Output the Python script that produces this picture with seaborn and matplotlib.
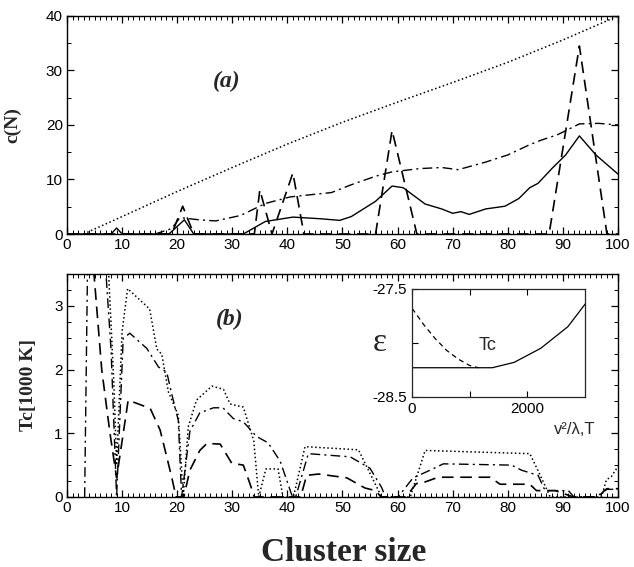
import matplotlib
matplotlib.use("Agg")
import matplotlib.pyplot as plt
from matplotlib.ticker import MultipleLocator, FixedLocator
import seaborn as sns
import pandas as pd

# ---------------- data: panel (a) c(N) ----------------
a_dotted_x = [3, 10, 20, 30, 40, 50, 60, 70, 80, 90, 100]
a_dotted_y = [0, 3.2, 7.8, 12.2, 16.5, 20.5, 24.2, 27.8, 31.5, 35.6, 40]

a_dashdot_x = [16, 19, 20.5, 24, 27, 31.5, 36, 40.5, 46, 48, 51.5, 56, 59, 64, 68, 71,
               76, 80, 84, 86, 89, 93, 96.5, 100]
a_dashdot_y = [0, 1.0, 3.0, 2.6, 2.4, 3.4, 5.6, 6.8, 7.4, 7.6, 9.0, 10.6, 11.4, 12.0, 12.2, 11.8,
               13.2, 14.5, 16.4, 17.2, 18.2, 20.2, 20.3, 20.0]

a_solid_x = [0, 8, 9, 10, 18.5, 21.3, 23, 32, 36, 41, 46, 49.5, 51.6, 56, 59, 61, 63, 65, 68,
             70, 71.5, 73, 76, 79.5, 82, 84, 85.5, 88, 90.5, 93, 96, 100]
a_solid_y = [0, 0, 1.1, 0, 0, 2.6, 0, 0, 2.3, 3.1, 2.8, 2.5, 3.2, 6.0, 8.8, 8.5, 7.0, 5.5, 4.6,
             3.8, 4.1, 3.6, 4.6, 5.1, 6.5, 8.5, 9.3, 12.0, 14.5, 18.0, 14.5, 11.0]

a_dashed_x = [0, 19, 21, 23, 34, 35, 37.2, 41, 43, 56, 59, 63.5, 87.5, 93, 98, 100]
a_dashed_y = [0, 0, 5.1, 0, 0, 8.1, 0, 11.2, 0, 0, 19, 0, 0, 34.5, 0, 0]

# ---------------- data: panel (b) Tc ----------------
b_dotted_x = [5, 7.5, 8.5, 9, 10, 11, 15, 16.3, 17.2, 18.4, 20.2, 21.1, 22, 23.5, 26.3, 28.4,
              29.6, 32, 33.9, 34.8, 36.1, 38.3, 39.2, 41.1, 43.2, 52.9, 57.1, 62.3, 65, 84,
              85.9, 87.7, 97, 97.9, 98.8, 100]
b_dotted_y = [6, 3.6, 1.8, 0.5, 2.6, 3.27, 2.95, 2.32, 2.24, 1.65, 1.28, 0, 1.1, 1.52, 1.74, 1.69,
              1.46, 1.41, 0.88, 0, 0.44, 0.44, 0, 0, 0.79, 0.74, 0, 0, 0.73, 0.68,
              0.34, 0, 0, 0.27, 0.32, 0.48]

b_dashdot_x = [3.2, 4, 7, 8, 9, 10.2, 11.4, 14.5, 16.6, 18.1, 19, 20.2, 20.8, 22.3, 24.1, 26.6,
               28.3, 30.2, 32, 34.4, 36.5, 38.7, 40.8, 41.5, 43.8, 51.4, 55, 57.1, 57.8, 60.1,
               62.8, 65.9, 68.3, 80.7, 82.5, 85.5, 86.6, 87.2, 91, 92, 96, 98, 100]
b_dashdot_y = [0, 5.5, 3.6, 2.3, 0, 2.49, 2.57, 2.33, 2.04, 1.96, 1.62, 1.2, 0, 1.03, 1.32, 1.4,
               1.4, 1.23, 1.18, 0.95, 0.85, 0.56, 0.03, 0, 0.68, 0.63, 0.45, 0.15, 0, 0,
               0.3, 0.42, 0.52, 0.5, 0.42, 0.34, 0.13, 0.1, 0.1, 0, 0, 0.12, 0.12]

b_dashed_x = [4, 4.8, 6.3, 7.8, 9, 11.1, 15.1, 16.9, 18.1, 19, 19.8, 21.2, 22.3, 24.1, 25.4,
              27.8, 29.9, 32, 33.2, 34, 42.4, 43.5, 45.7, 50.8, 54.1, 56, 57, 61.5, 63.4, 64.8,
              67.4, 76.8, 78.6, 84, 85.2, 88.6, 91.9, 96.5, 97.5, 98, 100]
b_dashed_y = [5, 3.6, 2.0, 1.0, 0.3, 1.52, 1.39, 1.05, 0.63, 0.31, 0, 0, 0.42, 0.73, 0.84,
              0.83, 0.53, 0.5, 0.21, 0, 0, 0.34, 0.36, 0.3, 0.14, 0.1, 0, 0, 0.21, 0.23,
              0.31, 0.31, 0.2, 0.2, 0.1, 0.1, 0, 0, 0.1, 0.13, 0.13]

# ---------------- data: inset ----------------
in_solid_x = [0, 1000, 1390, 1770, 2230, 2700, 3000]
in_solid_y = [-28.23, -28.23, -28.23, -28.18, -28.05, -27.85, -27.64]
in_dashed_x = [0, 200, 400, 600, 800, 1000, 1150]
in_dashed_y = [-27.68, -27.83, -27.96, -28.07, -28.15, -28.21, -28.23]

a_xticks = [0, 10, 20, 30, 40, 50, 60, 70, 80, 90, 100]
a_yticks = [0, 10, 20, 30, 40]
b_yticks = [0, 1, 2, 3]

# ---------------- style ----------------
sns.set_style("ticks")
plt.rcParams['font.family'] = ['Liberation Sans', 'DejaVu Sans']
plt.rcParams['axes.unicode_minus'] = False
plt.rcParams['axes.linewidth'] = 1.0

SERIF = ['Liberation Serif', 'DejaVu Serif']
DOT = ':'
DASHDOT = (0, (7, 3, 1.5, 3))
DASH = (0, (7, 4))

fig = plt.figure(figsize=(6.34, 5.67), dpi=100)
ax_a = fig.add_axes([0.1057, 0.5873, 0.869, 0.3845])
ax_b = fig.add_axes([0.1057, 0.1235, 0.869, 0.3933])
ax_in = fig.add_axes([0.650, 0.300, 0.273, 0.1905])


def draw(ax, xs, ys, ls, lw=1.0):
    df = pd.DataFrame({"x": xs, "y": ys})
    sns.lineplot(data=df, x="x", y="y", ax=ax, color="black", lw=lw,
                 linestyle=ls, estimator=None, sort=False)


draw(ax_a, a_dotted_x, a_dotted_y, DOT, 1.1)
draw(ax_a, a_dashdot_x, a_dashdot_y, DASHDOT)
draw(ax_a, a_solid_x, a_solid_y, '-')
draw(ax_a, a_dashed_x, a_dashed_y, DASH, 1.2)

draw(ax_b, b_dotted_x, b_dotted_y, DOT, 1.1)
draw(ax_b, b_dashdot_x, b_dashdot_y, DASHDOT)
draw(ax_b, b_dashed_x, b_dashed_y, DASH, 1.2)

draw(ax_in, in_solid_x, in_solid_y, '-', 0.9)
draw(ax_in, in_dashed_x, in_dashed_y, (0, (4, 3)), 0.9)


def style_axes(ax):
    ax.tick_params(which='both', direction='in', top=True, right=True,
                   labelsize=11, pad=3, colors='black')
    ax.tick_params(which='major', length=5, width=0.9)
    ax.tick_params(which='minor', length=3, width=0.7)
    for s in ax.spines.values():
        s.set_color('black')


# panel (a)
ax_a.set_xlim(0, 100)
ax_a.set_ylim(0, 40)
ax_a.xaxis.set_major_locator(FixedLocator(a_xticks))
ax_a.xaxis.set_minor_locator(MultipleLocator(1))
ax_a.yaxis.set_major_locator(FixedLocator(a_yticks))
ax_a.yaxis.set_minor_locator(MultipleLocator(5))
style_axes(ax_a)
ax_a.set_xlabel("")
ax_a.set_ylabel("c(N)", family=SERIF, fontweight='bold', fontsize=14)
ax_a.yaxis.set_label_coords(-0.082, 0.5)
ax_a.text(29, 28, "(a)", family=SERIF, fontweight='bold', fontstyle='italic',
          fontsize=17, ha='center', va='center')

# panel (b)
ax_b.set_xlim(0, 100)
ax_b.set_ylim(0, 3.5)
ax_b.xaxis.set_major_locator(FixedLocator(a_xticks))
ax_b.xaxis.set_minor_locator(MultipleLocator(1))
ax_b.yaxis.set_major_locator(FixedLocator(b_yticks))
ax_b.yaxis.set_minor_locator(MultipleLocator(0.25))
style_axes(ax_b)
ax_b.set_xlabel("")
ax_b.set_ylabel("Tc[1000 K]", family=SERIF, fontweight='bold', fontsize=14)
ax_b.yaxis.set_label_coords(-0.054, 0.5)
ax_b.text(29.5, 2.78, "(b)", family=SERIF, fontweight='bold', fontstyle='italic',
          fontsize=17, ha='center', va='center')

# inset
ax_in.set_xlim(0, 3000)
ax_in.set_ylim(-28.5, -27.5)
ax_in.xaxis.set_major_locator(FixedLocator([0, 2000]))
ax_in.xaxis.set_minor_locator(FixedLocator([1000]))
ax_in.yaxis.set_major_locator(FixedLocator([-28.5, -27.5]))
ax_in.yaxis.set_minor_locator(FixedLocator([-28.0]))
ax_in.tick_params(which='both', direction='in', top=True, right=False,
                  labelsize=11, colors='black')
ax_in.tick_params(which='major', length=4, width=0.8)
ax_in.tick_params(which='minor', length=4, width=0.8)
ax_in.set_yticklabels(["-28.5", "-27.5"])
ax_in.set_xlabel("")
ax_in.set_ylabel("")
for s in ax_in.spines.values():
    s.set_linewidth(0.9)
ax_in.text(1300, -28.02, "Tc", fontsize=13, ha='center', va='center')

fig.text(380 / 634, 1 - 343 / 567, "ε", family=SERIF, fontsize=24,
         ha='center', va='center')
fig.text(575 / 634, 1 - 430 / 567, "v²/λ,T", fontsize=12, ha='center', va='center')
fig.text(344 / 634, 1 - 561 / 567, "Cluster size", family=SERIF, fontweight='bold',
         fontsize=24, ha='center', va='baseline')

fig.savefig("out.png", dpi=100, facecolor='white')
